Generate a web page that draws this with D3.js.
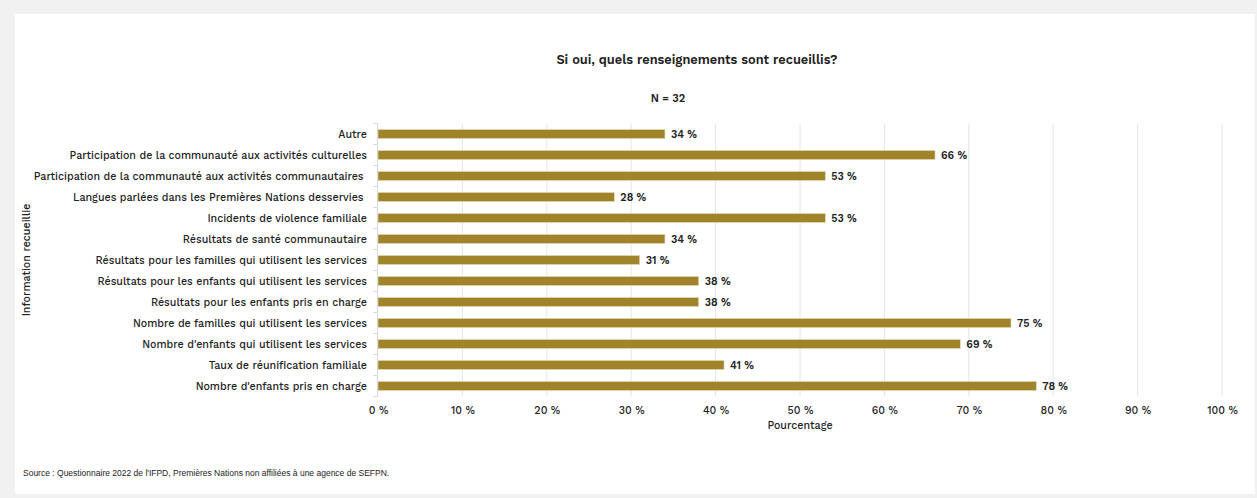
<!DOCTYPE html>
<html>
<head>
<meta charset="utf-8">
<script src="https://cdn.jsdelivr.net/npm/d3@7"></script>
<style>
  html, body { margin: 0; padding: 0; background: #f1f1f1; }
  svg { display: block; }
</style>
</head>
<body>
<svg id="chart" width="1257" height="498"></svg>
<script>
// Categories, top to bottom
const categories = [
  "Autre",
  "Participation de la communauté aux activités culturelles",
  "Participation de la communauté aux activités communautaires ",
  "Langues parlées dans les Premières Nations desservies ",
  "Incidents de violence familiale",
  "Résultats de santé communautaire",
  "Résultats pour les familles qui utilisent les services",
  "Résultats pour les enfants qui utilisent les services",
  "Résultats pour les enfants pris en charge",
  "Nombre de familles qui utilisent les services",
  "Nombre d'enfants qui utilisent les services",
  "Taux de réunification familiale",
  "Nombre d'enfants pris en charge"
];
// Share of respondents (%)
const values = [34, 66, 53, 28, 53, 34, 31, 38, 38, 75, 69, 41, 78];
const xTicks = [0, 10, 20, 30, 40, 50, 60, 70, 80, 90, 100];

const titleText = "Si oui, quels renseignements sont recueillis?";
const subtitleText = "N = 32";
const xTitle = "Pourcentage";
const yTitle = "Information recueillie";
const sourceText = "Source : Questionnaire 2022 de l'IFPD, Premières Nations non affiliées à une agence de SEFPN.";

const svg = d3.select("#chart");
const font = "'Work Sans', 'Open Sans', sans-serif";
const fs = 10.7;

// White panel
svg.append("rect").attr("x", 15).attr("y", 14).attr("width", 1240).attr("height", 480).attr("fill", "#ffffff");

const m = { left: 378, right: 1222, top: 123.5, bottom: 396.5 };
const x = d3.scaleLinear().domain([0, 100]).range([m.left, m.right]);
const y = d3.scaleBand().domain(categories).range([m.top, m.bottom]).paddingInner(0.57).paddingOuter(0.285);
const band = d3.scaleBand().domain(categories).range([m.top, m.bottom]);

// Vertical grid
svg.append("g").selectAll("line").data(xTicks.slice(1)).join("line")
  .attr("x1", d => x(d)).attr("x2", d => x(d))
  .attr("y1", m.top).attr("y2", m.bottom)
  .attr("stroke", "#e6e6e6").attr("stroke-width", 1);

// Bars
svg.append("g").selectAll("rect").data(values).join("rect")
  .attr("x", x(0))
  .attr("y", (d, i) => y(categories[i]))
  .attr("width", d => x(d) - x(0))
  .attr("height", y.bandwidth())
  .attr("fill", "#a0842c")
  .attr("stroke", "#e8dcb8").attr("stroke-width", 0.6);

// Value labels
svg.append("g").selectAll("text").data(values).join("text")
  .attr("x", d => x(d) + 6)
  .attr("y", (d, i) => y(categories[i]) + y.bandwidth() / 2)
  .attr("dy", "0.35em")
  .attr("font-family", font).attr("font-size", fs).attr("font-weight", 600)
  .attr("fill", "#222")
  .text(d => d + " %");

// Y axis: line with ticks between categories
const yAxisG = svg.append("g");
yAxisG.append("line").attr("x1", m.left - 0.5).attr("x2", m.left - 0.5)
  .attr("y1", m.top).attr("y2", m.bottom).attr("stroke", "#d9d9d9");
yAxisG.selectAll("line.tk").data(d3.range(categories.length + 1)).join("line")
  .attr("class", "tk")
  .attr("x1", m.left - 5).attr("x2", m.left)
  .attr("y1", i => m.top + i * band.step()).attr("y2", i => m.top + i * band.step())
  .attr("stroke", "#d9d9d9");
yAxisG.selectAll("text").data(categories).join("text")
  .attr("x", m.left - 11)
  .attr("y", d => band(d) + band.bandwidth() / 2)
  .attr("dy", "0.35em")
  .attr("text-anchor", "end")
  .attr("font-family", font).attr("font-size", fs).attr("font-weight", 500)
  .attr("fill", "#222")
  .attr("xml:space", "preserve")
  .text(d => d);

// X axis labels
const xAxis = d3.axisBottom(x).tickValues(xTicks).tickFormat(d => d + " %").tickSize(0).tickPadding(0);
const xg = svg.append("g").attr("transform", `translate(0, ${m.bottom + 14})`).call(xAxis);
xg.select(".domain").remove();
xg.selectAll("text").attr("font-family", font).attr("font-size", fs).attr("font-weight", 500).attr("fill", "#222").attr("dy", "0.35em").attr("y", 0);

// Axis titles
svg.append("text").attr("x", (m.left + m.right) / 2).attr("y", 425).attr("dy", "0.35em")
  .attr("text-anchor", "middle").attr("font-family", font).attr("font-size", fs).attr("font-weight", 500).attr("fill", "#222")
  .text(xTitle);
svg.append("text").attr("transform", "translate(26, 260) rotate(-90)").attr("dy", "0.35em")
  .attr("text-anchor", "middle").attr("font-family", font).attr("font-size", fs).attr("font-weight", 500).attr("fill", "#222")
  .text(yTitle);

// Title and sample size
svg.append("text").attr("x", 697).attr("y", 60).attr("dy", "0.35em")
  .attr("text-anchor", "middle").attr("font-family", font).attr("font-size", 12.8).attr("font-weight", 600).attr("fill", "#222")
  .text(titleText);
svg.append("text").attr("x", 668).attr("y", 98).attr("dy", "0.35em")
  .attr("text-anchor", "middle").attr("font-family", font).attr("font-size", 11).attr("font-weight", 600).attr("fill", "#222")
  .text(subtitleText);

// Source note
svg.append("text").attr("x", 23).attr("y", 473).attr("dy", "0.35em")
  .attr("font-family", "'Liberation Sans', Arial, sans-serif").attr("font-size", 8.5).attr("fill", "#222")
  .text(sourceText);
</script>
</body>
</html>
